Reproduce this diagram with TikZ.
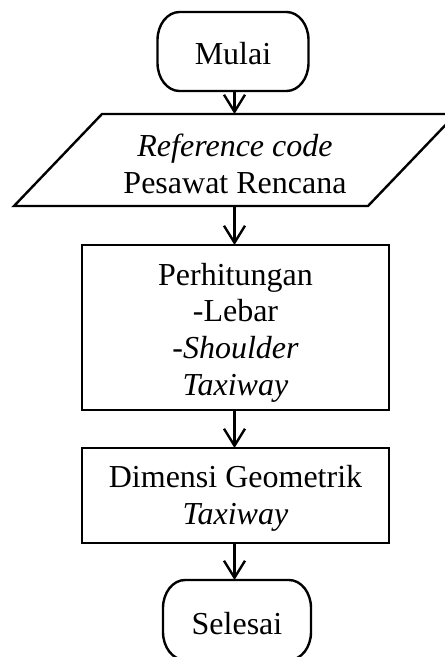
\documentclass[tikz,border=0pt]{standalone}
\usepackage{fontspec}
\setmainfont{Liberation Serif}
\usetikzlibrary{arrows.meta}

% Terminator outline: flat top and bottom, elliptical ends
\newcommand\terminatorpath[1]{%
  \draw ([xshift=22pt]#1.north west) -- ([xshift=-22pt]#1.north east)
    arc[start angle=90,end angle=0,x radius=22pt,y radius=28pt] -- ([yshift=28pt]#1.south east)
    arc[start angle=0,end angle=-90,x radius=22pt,y radius=28pt] -- ([xshift=22pt]#1.south west)
    arc[start angle=270,end angle=180,x radius=22pt,y radius=28pt] -- ([yshift=-28pt]#1.north west)
    arc[start angle=180,end angle=90,x radius=22pt,y radius=28pt] -- cycle;}

\begin{document}
\begin{tikzpicture}[x=1pt,y=1pt,line width=2.4pt,
  txt/.style={font=\fontsize{32}{36.7}\selectfont, align=center, inner sep=0pt},
  shapebox/.style={inner sep=0pt, outer sep=0pt},
  procbox/.style={shapebox, draw, minimum width=307pt},
  flow/.style={-{Straight Barb[length=17pt,width=21pt]}}]

\clip (0,0) rectangle (445,-657);
\fill[white] (0,0) rectangle (445,-657);

% vertical line on which all connectors run
\coordinate (axis) at (234.5,0);

% start terminator
\node[shapebox, minimum width=151pt, minimum height=79pt] (start) at (233,-51.5) {};
\terminatorpath{start}
\node[txt] (starttxt) at ([yshift=-2.5pt]start.center) {Mulai};

% input parallelogram
\node[shapebox, minimum width=354pt, minimum height=92pt] (input) at (235,-160) {};
\draw (input.center) ++(-221,-46) -- ++(88,92) -- ++(354,0) -- ++(-88,-92) -- cycle;
\node[txt] (inputtxt) at ([yshift=-4pt]input.center) {\textit{Reference code}\\Pesawat Rencana};

% calculation box
\node[procbox, minimum height=165pt] (calc) at (235.5,-327.5) {};
\node[txt] (calctxt) at ([yshift=-5pt]calc.center) {Perhitungan\\-Lebar\\-\textit{Shoulder}\\\textit{Taxiway}};

% result box
\node[procbox, minimum height=95pt] (dim) at (235.5,-495.5) {};
\node[txt] (dimtxt) at ([yshift=-3pt]dim.center) {Dimensi Geometrik\\\textit{Taxiway}};

% end terminator
\node[shapebox, minimum width=148pt, minimum height=80pt] (stop) at (237,-620) {};
\terminatorpath{stop}
\node[txt] (stoptxt) at ([yshift=-3.5pt]stop.center) {Selesai};

% connectors
\draw[flow] (axis |- start.south) -- (axis |- input.north);
\draw[flow] (axis |- input.south) -- (axis |- calc.north);
\draw[flow] (axis |- calc.south) -- (axis |- dim.north);
\draw[flow] (axis |- dim.south) -- (axis |- stop.north);
\end{tikzpicture}
\end{document}
